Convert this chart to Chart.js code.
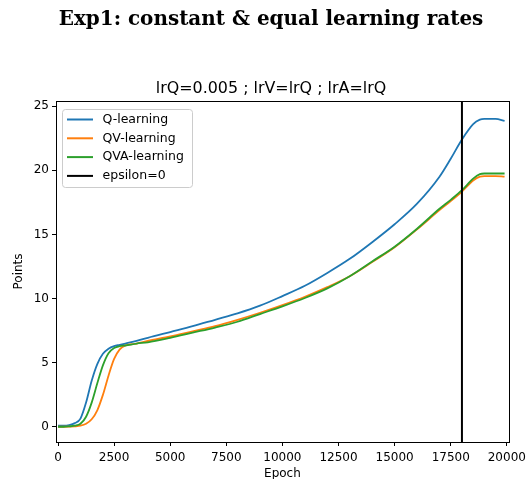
<!DOCTYPE html>
<html>
<head>
<meta charset="utf-8">
<script src="https://cdn.jsdelivr.net/npm/chart.js@4.4.1/dist/chart.umd.min.js"></script>
<style>
  html, body { margin: 0; padding: 0; background: #fff; }
  #wrap { width: 531px; height: 479px; position: relative; }
</style>
</head>
<body>
<div id="wrap"><canvas id="chart"></canvas></div>
<script>
// values
const epochs = [0, 250, 500, 750, 1000, 1250, 1500, 1750, 2000, 2250, 2500, 2750, 3000, 3500, 4000,
  5000, 6000, 7000, 8000, 9000, 10000, 11000, 12000, 13000, 14000, 15000, 16000, 17000, 17500,
  18000, 18500, 18800, 19000, 19500, 19900];
const qLearning = [0.1, 0.1, 0.15, 0.3, 0.65, 1.9, 3.6, 4.9, 5.7, 6.1, 6.3, 6.4, 6.5, 6.7, 6.95,
  7.4, 7.85, 8.35, 8.85, 9.45, 10.2, 11.0, 12.0, 13.1, 14.4, 15.8, 17.4, 19.5, 20.9,
  22.4, 23.6, 23.95, 24.0, 24.0, 23.85];
const qvLearning = [0.02, 0.02, 0.03, 0.05, 0.1, 0.25, 0.6, 1.3, 2.5, 4.0, 5.3, 6.05, 6.35, 6.5, 6.7,
  7.05, 7.45, 7.85, 8.35, 8.9, 9.5, 10.15, 10.9, 11.75, 12.85, 14.0, 15.4, 16.9, 17.6,
  18.35, 19.2, 19.5, 19.55, 19.55, 19.5];
const qvaLearning = [0.02, 0.02, 0.05, 0.1, 0.25, 0.8, 1.9, 3.4, 4.8, 5.75, 6.15, 6.3, 6.35, 6.5, 6.6,
  6.95, 7.35, 7.75, 8.2, 8.8, 9.4, 10.05, 10.8, 11.75, 12.9, 14.05, 15.45, 17.0, 17.7,
  18.45, 19.35, 19.7, 19.75, 19.75, 19.75];
const epsilonZeroAt = 18000;
const seriesNames = ['Q-learning', 'QV-learning', 'QVA-learning', 'epsilon=0'];
const xTicks = [0, 2500, 5000, 7500, 10000, 12500, 15000, 17500, 20000];
const yTicks = [0, 5, 10, 15, 20, 25];
const xRange = [-90, 20090];
const yRange = [-1.17, 25.4];

const mainTitle = 'Exp1: constant & equal learning rates';
const subTitle = 'lrQ=0.005 ; lrV=lrQ ; lrA=lrQ';

const sans = "'DejaVu Sans', sans-serif";

function pts(values) {
  return epochs.map((e, i) => ({ x: e, y: values[i] }));
}

// frame, titles and the in-axes legend, drawn the matplotlib way
const mplLook = {
  id: 'mplLook',
  afterDatasetsDraw(chart) {
    const { ctx, chartArea: a } = chart;
    ctx.save();
    ctx.strokeStyle = '#000';
    ctx.lineWidth = 1;
    ctx.strokeRect(Math.round(a.left) + 0.5, Math.round(a.top) + 0.5,
      Math.round(a.right - a.left), Math.round(a.bottom - a.top));

    // legend
    const lx = 62, ly = 109, lw = 130, lh = 78;
    ctx.fillStyle = 'rgba(255,255,255,0.85)';
    ctx.strokeStyle = '#cccccc';
    ctx.beginPath();
    ctx.roundRect(lx + 0.5, ly + 0.5, lw, lh, 3);
    ctx.fill();
    ctx.stroke();
    ctx.font = '12.5px ' + sans;
    ctx.textBaseline = 'middle';
    chart.data.datasets.forEach((ds, i) => {
      const yy = 119.5 + i * 18.8;
      ctx.strokeStyle = ds.borderColor;
      ctx.lineWidth = 2;
      ctx.beginPath();
      ctx.moveTo(67, yy);
      ctx.lineTo(93, yy);
      ctx.stroke();
      ctx.fillStyle = '#000';
      ctx.fillText(ds.label, 102.5, yy);
    });

    // titles
    ctx.fillStyle = '#000';
    ctx.textAlign = 'center';
    ctx.font = '15.9px ' + sans;
    ctx.fillText(subTitle, 271, 89);
    ctx.font = "bold 20px 'DejaVu Serif', serif";
    const w = ctx.measureText(mainTitle).width;
    const size = 20 * 425 / w;
    ctx.font = "bold " + size.toFixed(2) + "px 'DejaVu Serif', serif";
    ctx.fillText(mainTitle, 271, 20);
    ctx.restore();
  }
};

const lineStyle = { borderWidth: 1.8, pointRadius: 0, fill: false, cubicInterpolationMode: 'monotone' };

new Chart(document.getElementById('chart'), {
  type: 'line',
  data: {
    datasets: [
      { label: seriesNames[0], data: pts(qLearning), borderColor: '#1f77b4', order: 3, ...lineStyle },
      { label: seriesNames[1], data: pts(qvLearning), borderColor: '#ff7f0e', order: 2, ...lineStyle },
      { label: seriesNames[2], data: pts(qvaLearning), borderColor: '#2ca02c', order: 1, ...lineStyle },
      { label: seriesNames[3], data: [{ x: epsilonZeroAt, y: yRange[0] }, { x: epsilonZeroAt, y: yRange[1] }],
        borderColor: '#000000', borderWidth: 2, pointRadius: 0, order: 0 }
    ]
  },
  options: {
    responsive: true,
    maintainAspectRatio: false,
    animation: false,
    layout: { padding: { top: 101, right: 20, left: 0, bottom: 0 } },
    scales: {
      x: {
        type: 'linear',
        min: xRange[0],
        max: xRange[1],
        afterBuildTicks: (s) => { s.ticks = xTicks.map(v => ({ value: v })); },
        afterFit: (s) => { s.height = 37; },
        grid: { drawOnChartArea: false, drawTicks: true, tickLength: 4, tickColor: '#000' },
        border: { color: '#000' },
        ticks: { color: '#000', font: { family: sans, size: 12 }, padding: 5, maxRotation: 0, autoSkip: false,
          callback: (v) => String(v) },
        title: { display: true, text: 'Epoch', color: '#000', font: { family: sans, size: 12 }, padding: { top: 0, bottom: -2.5 } }
      },
      y: {
        min: yRange[0],
        max: yRange[1],
        afterBuildTicks: (s) => { s.ticks = yTicks.map(v => ({ value: v })); },
        afterFit: (s) => { s.width = 56; },
        grid: { drawOnChartArea: false, drawTicks: true, tickLength: 4, tickColor: '#000' },
        border: { color: '#000' },
        ticks: { color: '#000', font: { family: sans, size: 12 }, padding: 3, callback: (v) => String(v) },
        title: { display: true, text: 'Points', color: '#000', font: { family: sans, size: 12 }, padding: { top: 12, bottom: 0 } }
      }
    },
    plugins: {
      legend: { display: false },
      tooltip: { enabled: false }
    }
  },
  plugins: [mplLook]
});
</script>
</body>
</html>
